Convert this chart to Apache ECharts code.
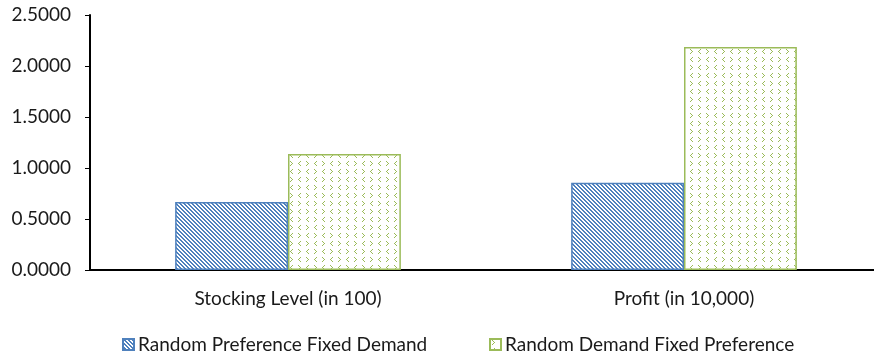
<!DOCTYPE html>
<html>
<head>
<meta charset="utf-8">
<script src="https://cdn.jsdelivr.net/npm/echarts@6/dist/echarts.min.js"></script>
<style>
  html, body {margin: 0; padding: 0; background: #fff;}
  #chart {width: 874px; height: 354px;}
</style>
</head>
<body>
<div id="chart"></div>
<script>
const categories = ['Stocking Level (in 100)', 'Profit (in 10,000)']
const seriesNames = ['Random Preference Fixed Demand', 'Random Demand Fixed Preference']
const fixedDemand = [0.667, 0.855]
const fixedPreference = [1.138, 2.187]
const yTicks = [0, 0.5, 1, 1.5, 2, 2.5]

const BLUE = '#4f81bd'
const GREEN = '#9bbb59'
const FONT = 'Lato'
const FS = 19

// diagonal stripes, like the excel "wide downward diagonal" fill
function stripeTile() {
  const c = document.createElement('canvas')
  c.width = 4
  c.height = 4
  const ctx = c.getContext('2d')
  ctx.fillStyle = '#fff'
  ctx.fillRect(0, 0, 4, 4)
  ctx.fillStyle = BLUE
  for (let y = 0; y < 4; y++) {
    for (let x = 0; x < 4; x++) {
      const d = ((x - y) % 4 + 4) % 4
      if (d < 2) ctx.fillRect(x, y, 1, 1)
    }
  }
  return c
}

// little < > marks on white
function chevronTile() {
  const c = document.createElement('canvas')
  c.width = 16
  c.height = 16
  const ctx = c.getContext('2d')
  ctx.fillStyle = '#fff'
  ctx.fillRect(0, 0, 16, 16)
  ctx.fillStyle = GREEN
  const right = (x, y) => {
    ctx.fillRect(x, y, 1, 1)
    ctx.fillRect(x + 1, y + 1, 1, 1)
    ctx.fillRect(x + 2, y + 2, 1, 1)
    ctx.fillRect(x + 1, y + 3, 1, 1)
    ctx.fillRect(x, y + 4, 1, 1)
  }
  const left = (x, y) => {
    ctx.fillRect(x + 2, y, 1, 1)
    ctx.fillRect(x + 1, y + 1, 1, 1)
    ctx.fillRect(x, y + 2, 1, 1)
    ctx.fillRect(x + 1, y + 3, 1, 1)
    ctx.fillRect(x + 2, y + 4, 1, 1)
  }
  right(2, 1)
  left(10, 1)
  left(2, 9)
  right(10, 9)
  return c
}

const legendText = {fontFamily: FONT, fontSize: FS, color: '#1a1a1a', padding: [0, 0, 0, -1]}

const chart = echarts.init(document.getElementById('chart'))

chart.setOption({
  animation: false,
  textStyle: {fontFamily: FONT},
  grid: {
    left: 90,
    width: 792,
    top: 15,
    height: 255,
    containLabel: false,
    outerBoundsMode: 'none'
  },
  legend: [
    {
      left: 117,
      top: 330,
      itemWidth: 11,
      itemHeight: 11,
      icon: 'rect',
      textStyle: legendText,
      data: [seriesNames[0]]
    },
    {
      left: 484,
      top: 330,
      itemWidth: 11,
      itemHeight: 11,
      icon: 'rect',
      textStyle: legendText,
      data: [seriesNames[1]]
    }
  ],
  xAxis: {
    type: 'category',
    data: categories,
    axisLine: {lineStyle: {color: '#000', width: 2}},
    axisTick: {show: false},
    axisLabel: {fontFamily: FONT, fontSize: FS, color: '#1a1a1a', margin: 19}
  },
  yAxis: {
    type: 'value',
    min: yTicks[0],
    max: yTicks[yTicks.length - 1],
    interval: 0.5,
    splitLine: {show: false},
    axisLine: {show: true, lineStyle: {color: '#000', width: 2}},
    axisTick: {show: true, length: 5, lineStyle: {color: '#000', width: 1}},
    axisLabel: {
      fontFamily: FONT,
      fontSize: FS,
      color: '#1a1a1a',
      margin: 19,
      formatter: v => v.toFixed(4)
    }
  },
  series: [
    {
      name: seriesNames[0],
      type: 'bar',
      data: fixedDemand,
      barGap: '0%',
      barCategoryGap: '43%',
      itemStyle: {
        color: {image: stripeTile(), repeat: 'repeat'},
        borderColor: BLUE,
        borderWidth: 1.5
      }
    },
    {
      name: seriesNames[1],
      type: 'bar',
      data: fixedPreference,
      barGap: '0%',
      barCategoryGap: '43%',
      itemStyle: {
        color: {image: chevronTile(), repeat: 'repeat'},
        borderColor: GREEN,
        borderWidth: 1.5
      }
    }
  ]
})
</script>
</body>
</html>
